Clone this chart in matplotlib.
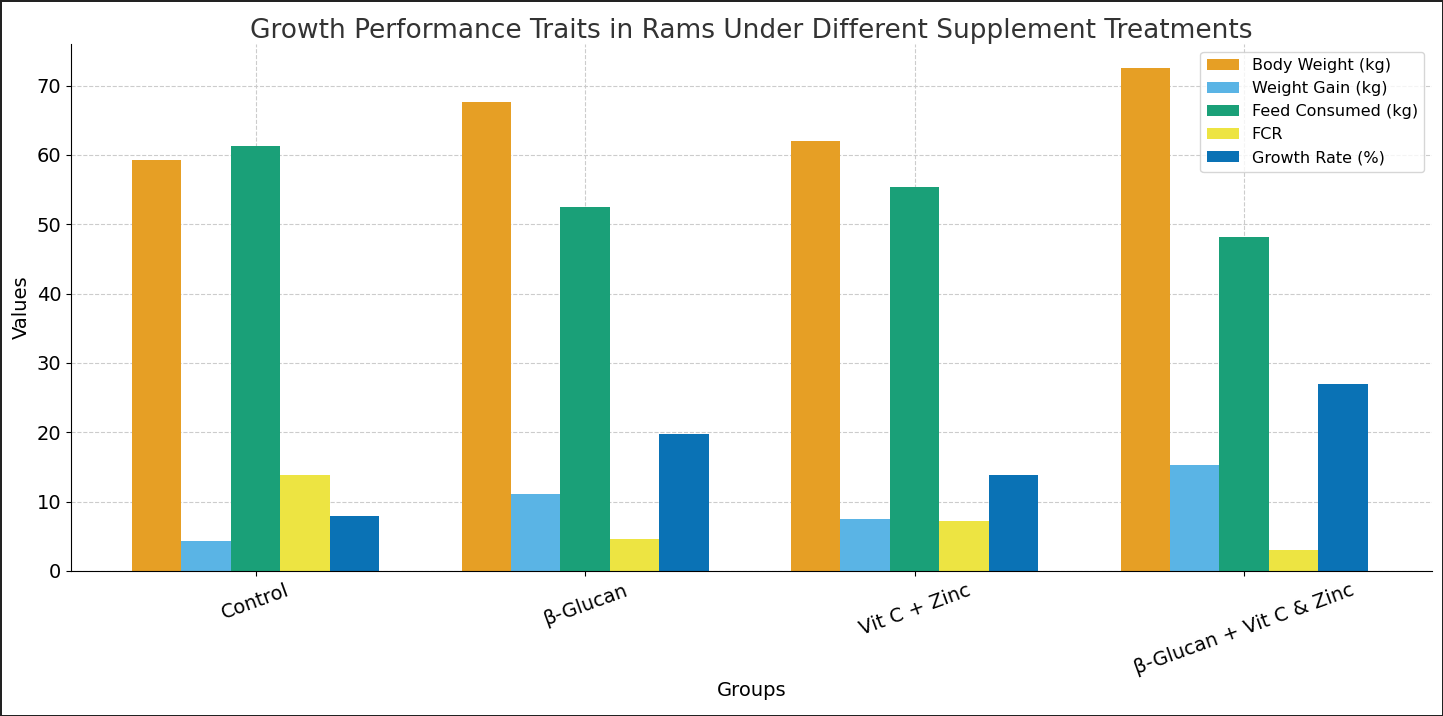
import numpy as np
import matplotlib.pyplot as plt

groups = ["Control", "β-Glucan", "Vit C + Zinc", "β-Glucan + Vit C & Zinc"]
body_weight = [59.3, 67.7, 62.0, 72.6]
weight_gain = [4.3, 11.1, 7.5, 15.3]
feed_consumed = [61.3, 52.5, 55.4, 48.2]
fcr = [13.9, 4.6, 7.2, 3.0]
growth_rate = [8.0, 19.8, 13.9, 26.9]

series = [
    ("Body Weight (kg)", body_weight, "#E69F25"),
    ("Weight Gain (kg)", weight_gain, "#5AB4E5"),
    ("Feed Consumed (kg)", feed_consumed, "#1AA078"),
    ("FCR", fcr, "#EDE442"),
    ("Growth Rate (%)", growth_rate, "#0A72B5"),
]

fig = plt.figure(figsize=(14.43, 7.16), dpi=100, linewidth=2, edgecolor="#222222")
ax = fig.add_axes([71 / 1443, 1 - 571 / 716, (1432 - 71) / 1443, (571 - 44) / 716])

x = np.arange(len(groups))
width = 0.15
for i, (label, vals, color) in enumerate(series):
    ax.bar(x + (i - 2) * width, vals, width, label=label, color=color, zorder=2)

ax.set_xlim(-0.56, 3.57)
ax.set_ylim(0, 76)
ax.set_xticks(x)
ax.set_xticklabels(groups, rotation=20, fontsize=14)
ax.tick_params(axis="y", labelsize=14)
ax.set_xlabel("Groups", fontsize=14, labelpad=2)
ax.set_ylabel("Values", fontsize=14)
ax.set_title("Growth Performance Traits in Rams Under Different Supplement Treatments",
             fontsize=19, color="#333333", pad=4)
ax.grid(True, linestyle="--", color="#cccccc", linewidth=0.8, zorder=0)
ax.spines["top"].set_visible(False)
ax.spines["right"].set_visible(False)
ax.legend(loc="upper right", fontsize=11.5)

fig.savefig("out.png", dpi=100, edgecolor=fig.get_edgecolor())
